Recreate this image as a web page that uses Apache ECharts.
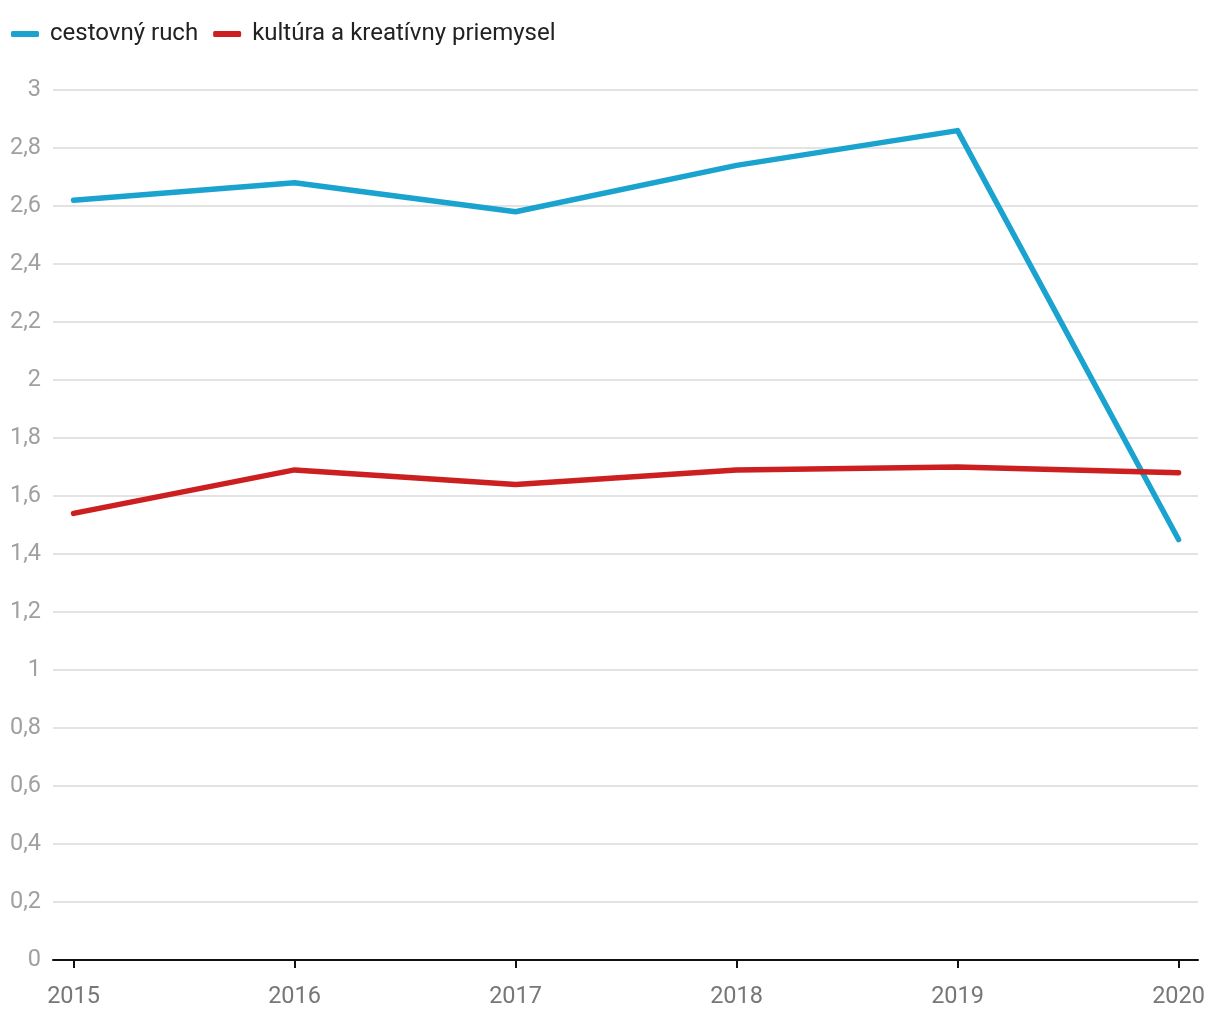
<!DOCTYPE html>
<html><head><meta charset="utf-8">
<script src="https://cdn.jsdelivr.net/npm/echarts@6/dist/echarts.min.js"></script>
<style>html,body{margin:0;padding:0;background:#fff}#c{width:1220px;height:1020px}</style>
</head><body><div id="c"></div>
<script>
const years = [2015, 2016, 2017, 2018, 2019, 2020];
const seriesNames = ['cestovný ruch', 'kultúra a kreatívny priemysel'];
const tourism = [2.62, 2.68, 2.58, 2.74, 2.86, 1.45];
const culture = [1.54, 1.69, 1.64, 1.69, 1.70, 1.68];
const colors = ['#1aa3cf', '#cc1f1f'];

const chart = echarts.init(document.getElementById('c'), null, {renderer: 'canvas'});
chart.setOption({
  animation: false,
  color: colors,
  textStyle: {fontFamily: 'Roboto'},
  legend: {
    left: 6, top: 17,
    icon: 'roundRect', itemWidth: 28, itemHeight: 6, itemGap: 15,
    textStyle: {fontSize: 24, color: '#222', fontFamily: 'Roboto', padding: [0, 0, 0, 6]},
    data: seriesNames
  },
  grid: {left: 53, right: 22, top: 90, bottom: 60, containLabel: false},
  xAxis: {
    type: 'value', min: 2014.907, max: 2020.088,
    axisLine: {show: true, lineStyle: {color: '#111', width: 2}},
    axisTick: {show: true, customValues: years, length: 8, lineStyle: {color: '#111', width: 2}},
    axisLabel: {customValues: years, color: '#777', fontSize: 23.5, margin: 25, formatter: v => String(Math.round(v))},
    splitLine: {show: false}
  },
  yAxis: {
    type: 'value', min: 0, max: 3, interval: 0.2,
    axisLine: {show: false}, axisTick: {show: false},
    axisLabel: {color: '#a0a0a0', fontSize: 23.5, margin: 12,
      formatter: v => String(Math.round(v * 10) / 10).replace('.', ',')},
    splitLine: {lineStyle: {color: '#e3e3e3', width: 2}}
  },
  series: [
    {name: seriesNames[0], type: 'line', data: years.map((y, i) => [y, tourism[i]]),
     showSymbol: false, lineStyle: {width: 5.5, color: colors[0], cap: 'round', join: 'round'}},
    {name: seriesNames[1], type: 'line', data: years.map((y, i) => [y, culture[i]]),
     showSymbol: false, lineStyle: {width: 5.5, color: colors[1], cap: 'round', join: 'round'}}
  ]
});
</script></body></html>
